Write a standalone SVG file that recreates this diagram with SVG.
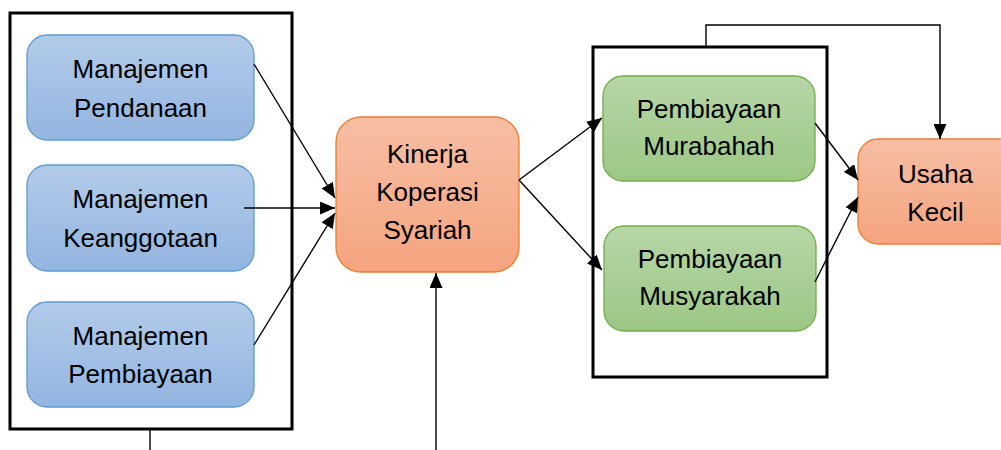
<svg xmlns="http://www.w3.org/2000/svg" width="1001" height="450" viewBox="0 0 1001 450">
  <defs>
    <linearGradient id="gBlue" x1="0" y1="0" x2="0" y2="1">
      <stop offset="0" stop-color="#b3cbea"/>
      <stop offset="1" stop-color="#93b5e0"/>
    </linearGradient>
    <linearGradient id="gOrange" x1="0" y1="0" x2="0" y2="1">
      <stop offset="0" stop-color="#f7bea4"/>
      <stop offset="1" stop-color="#f5a47f"/>
    </linearGradient>
    <linearGradient id="gGreen" x1="0" y1="0" x2="0" y2="1">
      <stop offset="0" stop-color="#b6d6a6"/>
      <stop offset="1" stop-color="#9cc785"/>
    </linearGradient>
    <marker id="arr" markerUnits="userSpaceOnUse" markerWidth="15" markerHeight="13" refX="15" refY="6.5" orient="auto">
      <path d="M0,0 L15,6.5 L0,13 z" fill="#000"/>
    </marker>
  </defs>
  <style>
    .frame { fill: none; stroke: #000; stroke-width: 3; }
    .blue { fill: url(#gBlue); stroke: #5b9bd5; stroke-width: 1.3; }
    .orange { fill: url(#gOrange); stroke: #ed7d31; stroke-width: 1.3; }
    .green { fill: url(#gGreen); stroke: #70ad47; stroke-width: 1.3; }
    .lbl { font-family: "Liberation Sans", Arial, sans-serif; font-size: 26px; fill: #000; text-anchor: middle; }
    .conn { fill: none; stroke: #000; stroke-width: 1.4; }
  </style>
  <rect width="1001" height="450" fill="#fff"/>

  <g id="frame-left">
    <rect class="frame" x="10" y="13" width="282" height="416"/>
  </g>
  <g id="frame-right">
    <rect class="frame" x="593" y="47" width="234" height="330"/>
  </g>

  <g id="node-pendanaan">
    <rect class="blue" x="27" y="35" width="227" height="105" rx="20"/>
    <text class="lbl" x="140.5" y="78">Manajemen</text>
    <text class="lbl" x="140.5" y="117">Pendanaan</text>
  </g>
  <g id="node-keanggotaan">
    <rect class="blue" x="27" y="165" width="227" height="106" rx="20"/>
    <text class="lbl" x="140.5" y="208">Manajemen</text>
    <text class="lbl" x="140.5" y="247">Keanggotaan</text>
  </g>
  <g id="node-pembiayaan">
    <rect class="blue" x="27" y="302" width="227" height="105" rx="20"/>
    <text class="lbl" x="140.5" y="345">Manajemen</text>
    <text class="lbl" x="140.5" y="383">Pembiayaan</text>
  </g>
  <g id="node-kinerja">
    <rect class="orange" x="336" y="117" width="183" height="155" rx="25"/>
    <text class="lbl" x="427.5" y="163">Kinerja</text>
    <text class="lbl" x="427.5" y="201">Koperasi</text>
    <text class="lbl" x="427.5" y="239">Syariah</text>
  </g>
  <g id="node-murabahah">
    <rect class="green" x="603" y="76" width="212" height="105" rx="20"/>
    <text class="lbl" x="709" y="118">Pembiayaan</text>
    <text class="lbl" x="709" y="155">Murabahah</text>
  </g>
  <g id="node-musyarakah">
    <rect class="green" x="604" y="226" width="212" height="105" rx="20"/>
    <text class="lbl" x="710" y="268">Pembiayaan</text>
    <text class="lbl" x="710" y="305">Musyarakah</text>
  </g>
  <g id="node-usaha">
    <rect class="orange" x="858" y="139" width="160" height="105" rx="20"/>
    <text class="lbl" x="935.5" y="183">Usaha</text>
    <text class="lbl" x="935.5" y="221">Kecil</text>
  </g>

  <g id="connectors">
    <line class="conn" x1="254" y1="64" x2="335" y2="198" marker-end="url(#arr)"/>
    <line class="conn" x1="244" y1="208" x2="335" y2="208" marker-end="url(#arr)"/>
    <line class="conn" x1="254" y1="345" x2="335" y2="213" marker-end="url(#arr)"/>
    <line class="conn" x1="519" y1="180" x2="602" y2="118" marker-end="url(#arr)"/>
    <line class="conn" x1="519" y1="180" x2="602" y2="270" marker-end="url(#arr)"/>
    <line class="conn" x1="436" y1="450" x2="436" y2="273" marker-end="url(#arr)"/>
    <line class="conn" x1="815" y1="123" x2="858" y2="180" marker-end="url(#arr)"/>
    <line class="conn" x1="815" y1="282" x2="858" y2="197" marker-end="url(#arr)"/>
    <polyline class="conn" points="706,46 706,25 940,25 940,139" marker-end="url(#arr)"/>
    <line class="conn" x1="150" y1="430" x2="150" y2="450"/>
  </g>
</svg>
